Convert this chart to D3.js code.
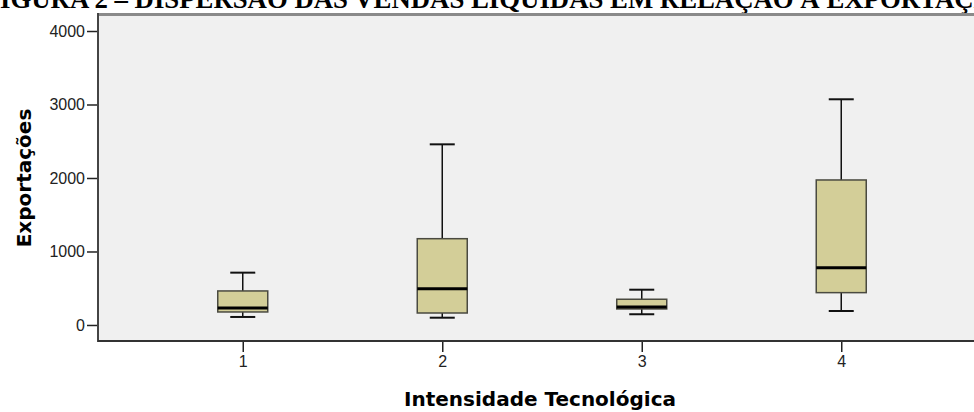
<!DOCTYPE html>
<html>
<head>
<meta charset="utf-8">
<script src="https://cdn.jsdelivr.net/npm/d3@7"></script>
<style>
  body { margin: 0; background: #fff; }
  svg { display: block; }
</style>
</head>
<body>
<svg id="chart" width="974" height="412"></svg>
<script>
// valores (boxplot por intensidade tecnológica)
const categorias = ["1", "2", "3", "4"];
const bigodeInf = [109, 99, 146, 190];
const q1 = [177, 163, 218, 440];
const mediana = [231, 494, 245, 780];
const q3 = [463, 1174, 350, 1973];
const bigodeSup = [712, 2458, 480, 3071];
const ticksY = [0, 1000, 2000, 3000, 4000];

const titulo = "FIGURA 2 – DISPERSÃO DAS VENDAS LÍQUIDAS EM RELAÇÃO À EXPORTAÇÃO";

const dados = categorias.map((c, i) => ({
    cat: c, lo: bigodeInf[i], q1: q1[i], med: mediana[i], q3: q3[i], hi: bigodeSup[i]
}));

const svg = d3.select("#chart");
const area = { left: 98, right: 986, top: 13, bottom: 341 };

const x = d3.scalePoint()
    .domain(categorias)
    .range([area.left, area.right])
    .padding(0.7256);

const y = d3.scaleLinear()
    .domain([-218, 4245])
    .range([area.bottom, area.top]);

// título (cortado no topo e nas laterais, como no original)
const tituloEl = svg.append("text")
    .attr("y", 8)
    .attr("font-family", "Liberation Serif, Times New Roman, serif")
    .attr("font-weight", "bold")
    .attr("font-size", 20)
    .attr("fill", "#000")
    .text(titulo);
// ajusta o tamanho para que "IGURA ... EXPORTAÇ" ocupe a largura da janela
const noTitulo = tituloEl.node();
const trecho = noTitulo.getSubStringLength(1, titulo.length - 3);
const tamanho = 20 * 974 / trecho;
tituloEl.attr("font-size", tamanho);
tituloEl.attr("x", -noTitulo.getSubStringLength(0, 1));

// fundo da área do gráfico
svg.append("rect")
    .attr("x", area.left)
    .attr("y", area.top)
    .attr("width", area.right - area.left)
    .attr("height", area.bottom - area.top)
    .attr("fill", "#f0f0f0");

// borda superior
svg.append("line")
    .attr("x1", area.left).attr("x2", area.right)
    .attr("y1", area.top + 1.5).attr("y2", area.top + 1.5)
    .attr("stroke", "#8a8a8a").attr("stroke-width", 3);

// eixo Y
const eixoY = svg.append("g")
    .attr("transform", `translate(${area.left},0)`)
    .call(d3.axisLeft(y).tickValues(ticksY).tickFormat(d3.format("d"))
        .tickSize(11).tickPadding(2).tickSizeOuter(0));
eixoY.select(".domain").remove();
eixoY.append("line")
    .attr("x1", 0).attr("x2", 0)
    .attr("y1", area.top).attr("y2", area.bottom + 1)
    .attr("stroke", "#444").attr("stroke-width", 2);
eixoY.selectAll(".tick line").attr("stroke", "#222").attr("stroke-width", 1.5);
eixoY.selectAll(".tick text")
    .attr("font-family", "Liberation Sans, Arial, sans-serif")
    .attr("font-size", 16)
    .attr("fill", "#222");

// eixo X
const eixoX = svg.append("g")
    .attr("transform", `translate(0,${area.bottom})`)
    .call(d3.axisBottom(x).tickSize(11).tickPadding(4).tickSizeOuter(0));
eixoX.select(".domain").remove();
eixoX.append("line")
    .attr("x1", area.left).attr("x2", area.right)
    .attr("y1", 0).attr("y2", 0)
    .attr("stroke", "#333").attr("stroke-width", 2);
eixoX.selectAll(".tick line").attr("stroke", "#222").attr("stroke-width", 1.5);
eixoX.selectAll(".tick text")
    .attr("font-family", "Liberation Sans, Arial, sans-serif")
    .attr("font-size", 16)
    .attr("fill", "#222");

// caixas
const larguraCaixa = 50;
const larguraTampa = 25;
const caixas = svg.append("g").selectAll("g")
    .data(dados)
    .enter()
    .append("g");

caixas.append("line")
    .attr("x1", d => x(d.cat)).attr("x2", d => x(d.cat))
    .attr("y1", d => y(d.hi)).attr("y2", d => y(d.lo))
    .attr("stroke", "#111").attr("stroke-width", 1.5);

caixas.append("line")
    .attr("x1", d => x(d.cat) - larguraTampa / 2).attr("x2", d => x(d.cat) + larguraTampa / 2)
    .attr("y1", d => y(d.hi)).attr("y2", d => y(d.hi))
    .attr("stroke", "#111").attr("stroke-width", 2);

caixas.append("line")
    .attr("x1", d => x(d.cat) - larguraTampa / 2).attr("x2", d => x(d.cat) + larguraTampa / 2)
    .attr("y1", d => y(d.lo)).attr("y2", d => y(d.lo))
    .attr("stroke", "#111").attr("stroke-width", 2);

caixas.append("rect")
    .attr("x", d => x(d.cat) - larguraCaixa / 2)
    .attr("width", larguraCaixa)
    .attr("y", d => y(d.q3))
    .attr("height", d => y(d.q1) - y(d.q3))
    .attr("fill", "#d3ce98")
    .attr("stroke", "#4a4a40")
    .attr("stroke-width", 1.5);

caixas.append("line")
    .attr("x1", d => x(d.cat) - larguraCaixa / 2).attr("x2", d => x(d.cat) + larguraCaixa / 2)
    .attr("y1", d => y(d.med)).attr("y2", d => y(d.med))
    .attr("stroke", "#000").attr("stroke-width", 3);

// títulos dos eixos
svg.append("text")
    .attr("transform", `translate(31,${(y(4000) + y(0)) / 2}) rotate(-90)`)
    .attr("text-anchor", "middle")
    .attr("font-family", "DejaVu Sans, Verdana, sans-serif")
    .attr("font-weight", "bold")
    .attr("font-size", 20)
    .attr("fill", "#000")
    .text("Exportações");

svg.append("text")
    .attr("x", 540)
    .attr("y", 406)
    .attr("text-anchor", "middle")
    .attr("font-family", "DejaVu Sans, Verdana, sans-serif")
    .attr("font-weight", "bold")
    .attr("font-size", 20)
    .attr("fill", "#000")
    .text("Intensidade Tecnológica");
</script>
</body>
</html>
